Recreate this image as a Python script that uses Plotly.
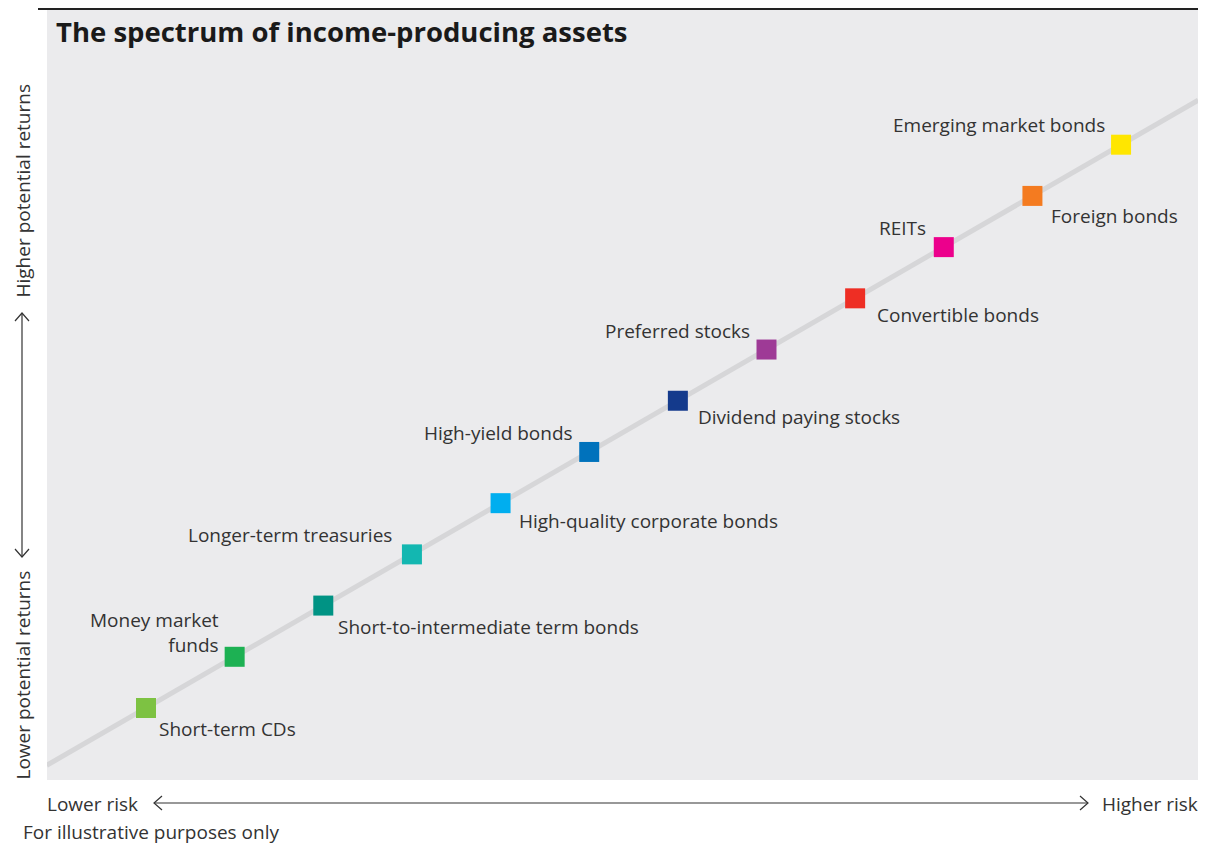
import plotly.graph_objects as go

# ---- data ----
assets = [
    "Short-term CDs",
    "Money market<br>funds",
    "Short-to-intermediate term bonds",
    "Longer-term treasuries",
    "High-quality corporate bonds",
    "High-yield bonds",
    "Dividend paying stocks",
    "Preferred stocks",
    "Convertible bonds",
    "REITs",
    "Foreign bonds",
    "Emerging market bonds",
]
risk = [1, 2, 3, 4, 5, 6, 7, 8, 9, 10, 11, 12]
returns = [1, 2, 3, 4, 5, 6, 7, 8, 9, 10, 11, 12]
colors = ["#7DC242", "#1DB153", "#009384", "#13B7B1", "#00AEEF", "#0072BC",
          "#143A8C", "#9E3A96", "#EE2E24", "#EC008C", "#F47B20", "#FFE600"]
trend_x = [-0.12, 12.87]
trend_y = [-0.12, 12.87]

# label placement tweaks (pixels): horizontal and vertical shifts per label
label_dx = [12, -15, 14, -19, 17, -15, 19, -16, 21, -17, 18, -15]
label_dy = [-6, -3, -6, 4, -3, 4, -1, 4, -2, 4, -5, 5]

W, H = 1215, 844
L, R, T, B = 47, 1198, 9, 780


def px(xp):
    return (xp - L) / (R - L)


def py(yp):
    return (B - yp) / (B - T)


TXT = "#333333"
FONT = "Open Sans"
FS = 19

fig = go.Figure()
fig.add_trace(go.Scatter(x=trend_x, y=trend_y, mode="lines",
                         line=dict(color="#D6D6D8", width=5),
                         hoverinfo="skip", showlegend=False))
fig.add_trace(go.Scatter(x=risk, y=returns, mode="markers", text=assets,
                         marker=dict(symbol="square", size=20, color=colors,
                                     line=dict(width=0)),
                         hovertemplate="%{text}<extra></extra>",
                         showlegend=False))

annotations = []
for i, (name, xv, yv) in enumerate(zip(assets, risk, returns)):
    if i % 2 == 0:
        annotations.append(dict(x=xv, y=yv, xref="x", yref="y", text=name,
                                showarrow=False, xanchor="left", yanchor="top",
                                xshift=label_dx[i] - 1, yshift=label_dy[i], align="left",
                                font=dict(family=FONT, size=FS, color=TXT)))
    else:
        annotations.append(dict(x=xv, y=yv, xref="x", yref="y", text=name,
                                showarrow=False, xanchor="right", yanchor="bottom",
                                xshift=label_dx[i] + 1, yshift=label_dy[i], align="right",
                                font=dict(family=FONT, size=FS, color=TXT)))

annotations.append(dict(x=px(54), y=py(31), xref="paper", yref="paper",
                        text="<b>The spectrum of income-producing assets</b>",
                        showarrow=False, xanchor="left", yanchor="middle",
                        font=dict(family=FONT, size=27.5, color="#1a1a1a")))
annotations.append(dict(x=px(45), y=py(804), xref="paper", yref="paper",
                        text="Lower risk", showarrow=False, xanchor="left",
                        yanchor="middle", font=dict(family=FONT, size=FS, color=TXT)))
annotations.append(dict(x=px(1200), y=py(804), xref="paper", yref="paper",
                        text="Higher risk", showarrow=False, xanchor="right",
                        yanchor="middle", font=dict(family=FONT, size=FS, color=TXT)))
annotations.append(dict(x=px(21), y=py(832), xref="paper", yref="paper",
                        text="For illustrative purposes only", showarrow=False,
                        xanchor="left", yanchor="middle",
                        font=dict(family=FONT, size=FS, color=TXT)))
annotations.append(dict(x=px(22), y=py(782), xref="paper", yref="paper",
                        text="Lower potential returns", showarrow=False,
                        textangle=-90, xanchor="center", yanchor="bottom",
                        font=dict(family=FONT, size=FS, color=TXT)))
annotations.append(dict(x=px(22), y=py(83), xref="paper", yref="paper",
                        text="Higher potential returns", showarrow=False,
                        textangle=-90, xanchor="center", yanchor="top",
                        font=dict(family=FONT, size=FS, color=TXT)))

shapes = []
line_style = dict(color="#333333", width=1.2)
# horizontal arrow
shapes.append(dict(type="line", xref="paper", yref="paper",
                   x0=px(154), x1=px(1088), y0=py(803), y1=py(803), line=line_style))
shapes.append(dict(type="path", xref="paper", yref="paper",
                   path=f"M {px(162)} {py(796)} L {px(154)} {py(803)} L {px(162)} {py(810)}",
                   line=line_style))
shapes.append(dict(type="path", xref="paper", yref="paper",
                   path=f"M {px(1080)} {py(796)} L {px(1088)} {py(803)} L {px(1080)} {py(810)}",
                   line=line_style))
# vertical arrow
shapes.append(dict(type="line", xref="paper", yref="paper",
                   x0=px(22), x1=px(22), y0=py(313), y1=py(557), line=line_style))
shapes.append(dict(type="path", xref="paper", yref="paper",
                   path=f"M {px(15)} {py(321)} L {px(22)} {py(313)} L {px(29)} {py(321)}",
                   line=line_style))
shapes.append(dict(type="path", xref="paper", yref="paper",
                   path=f"M {px(15)} {py(549)} L {px(22)} {py(557)} L {px(29)} {py(549)}",
                   line=line_style))
# top rule
shapes.append(dict(type="line", xref="paper", yref="paper",
                   x0=px(38), x1=px(1198), y0=py(9), y1=py(9),
                   line=dict(color="#222222", width=2)))

fig.update_layout(
    width=W, height=H,
    margin=dict(l=L, r=W - R, t=T, b=H - B),
    paper_bgcolor="white", plot_bgcolor="#EBEBED",
    xaxis=dict(range=[-0.117, 12.868], visible=False, fixedrange=True),
    yaxis=dict(range=[-0.406, 14.65], visible=False, fixedrange=True),
    annotations=annotations, shapes=shapes,
    font=dict(family=FONT, color=TXT),
    showlegend=False,
)

fig.write_html("out.html", config={"displayModeBar": False},
               post_script="document.body.style.margin='0';document.body.style.overflow='hidden';")
